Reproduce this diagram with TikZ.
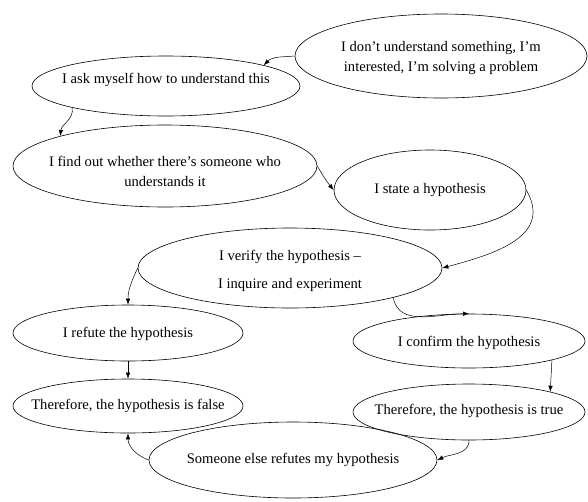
\documentclass[tikz,border=0pt]{standalone}
\usepackage{fontspec}
\setmainfont{Liberation Serif}
\usetikzlibrary{shapes.geometric}
\usetikzlibrary{arrows.meta}
\newcommand{\bubbletext}[2][-3pt]{\smash{\raisebox{#1}{\makebox[0pt]{\begin{tabular}{@{}c@{}}#2\end{tabular}}}}}

\begin{document}
\begin{tikzpicture}[x=1pt,y=1pt,
		bubble/.style={draw,ellipse,inner sep=0pt,line width=0.6pt,font=\fontsize{14.6}{20}\selectfont},
		link/.style={-{Latex[length=6pt,width=4.5pt]},line width=0.5pt}]
				\useasboundingbox (0,0) rectangle (588,-501);
				\node [bubble,minimum width=292pt,minimum height=84pt] (wonder) at (441,-56){\bubbletext[-5pt]{I don't understand something, I'm\\interested, I'm solving a problem}};
				\node [bubble,minimum width=268pt,minimum height=60pt] (ask) at (166,-86){\bubbletext[3pt]{I ask myself how to understand this}};
				\node [bubble,minimum width=304pt,minimum height=82pt] (find) at (165,-166){\bubbletext[-10pt]{I find out whether there's someone who\\understands it}};
				\node [bubble,minimum width=192pt,minimum height=80pt] (state) at (430,-190){\bubbletext{I state a hypothesis}};
				\node [bubble,minimum width=304pt,minimum height=80pt] (verify) at (290,-268){\bubbletext[-6pt]{I verify the hypothesis --\\[8pt]I inquire and experiment}};
				\node [bubble,minimum width=230pt,minimum height=56pt] (refute) at (128,-333){\bubbletext[-4pt]{I refute the hypothesis}};
				\node [bubble,minimum width=232pt,minimum height=54pt] (confirm) at (469,-341){\bubbletext[-5pt]{I confirm the hypothesis}};
				\node [bubble,minimum width=230pt,minimum height=54pt] (false) at (128,-406){\bubbletext{Therefore, the hypothesis is false}};
				\node [bubble,minimum width=232pt,minimum height=56pt] (true) at (469,-412){\bubbletext[-2pt]{Therefore, the hypothesis is true}};
				\node [bubble,minimum width=288pt,minimum height=76pt] (someone) at (293,-460){\bubbletext{Someone else refutes my hypothesis}};
				\draw [link](wonder.west) to[out=185,in=45] (ask.12);
				\draw [link](ask.193) to[out=-80,in=85] (find.164);
				\draw [link](find.east) to[out=-60,in=130] (state.west);
				\draw [link](state.east) to[out=-60,in=15,looseness=1.2] (verify.east);
				\draw [link](verify.west) to[out=-115,in=90] (refute.north);
				\draw [link](refute.south) -- (false.north);
				\draw [link](verify.-16) to[out=-80,in=180] (confirm.north);
				\draw [link](confirm.-13) -- (true.14);
				\draw [link](true.south) to[out=-90,in=25] (someone.east);
				\draw [link](someone.west) to[out=160,in=-90] (false.south);
			\end{tikzpicture}
\end{document}
